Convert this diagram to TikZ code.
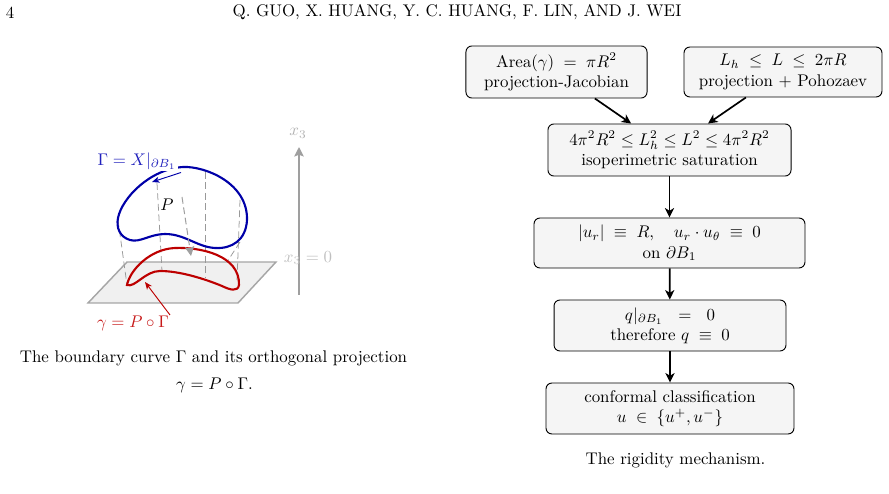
\documentclass[tikz,border=0pt]{standalone}
\usepackage{amsmath}
\usetikzlibrary{arrows.meta}

\definecolor{curveblue}{rgb}{0.0,0.0,0.66}
\definecolor{labelblue}{rgb}{0.13,0.13,0.74}
\definecolor{curvered}{rgb}{0.74,0.0,0.0}
\definecolor{labelred}{rgb}{0.78,0.1,0.1}

\tikzset{
  mechbox/.style={draw,rounded corners=3.5pt,fill=black!4,align=center,line width=.55pt,inner sep=0pt},
  mecharrow/.style={-{Stealth[length=5.6pt,width=5.4pt,inset=1.6pt]},line width=1pt},
  greyarrow/.style={-{Stealth[length=5.6pt,width=5.6pt,inset=1pt]},gray!75},
  thinarrow/.style={-{Stealth[length=4.4pt,width=3.6pt,inset=1.2pt]},line width=.55pt},
  dropline/.style={gray!80,dash pattern=on 4pt off 2.2pt,line width=.45pt},
  pagetext/.style={inner sep=0pt}
}

\begin{document}
\begin{tikzpicture}[x=.592pt,y=-.592pt]
  \useasboundingbox (0,0) rectangle (889,494);

  \node[pagetext] (pagenum) at (10,12.5) {4};
  \node[pagetext] (runhead) at (457,12.5) {Q. GUO, X. HUANG, Y. C. HUANG, F. LIN, AND J. WEI};

  % projection plane
  \coordinate (PA) at (88,303);
  \coordinate (PB) at (238,303);
  \coordinate (PC) at (276,262);
  \coordinate (PD) at (127,262);
  \filldraw[fill=black!6,draw=gray!70,line width=.85pt] (PA) -- (PB) -- (PC) -- (PD) -- cycle;

  \coordinate (X0) at (299,295);
  \coordinate (X1) at (299,147);
  \draw[greyarrow,line width=1pt] (X0) -- (X1);
  \node[gray!60] (xlabel) at (298,133.5) {$x_3$};
  \node[gray!50] (xzero) at (308,258) {$x_3=0$};

  % vertical drops
  \coordinate (D1a) at (118,220);
  \coordinate (D1b) at (127,285);
  \coordinate (D2a) at (157,183);
  \coordinate (D2b) at (162,271);
  \coordinate (D3a) at (205,172);
  \coordinate (D3b) at (205,278);
  \coordinate (D4a) at (240,200);
  \coordinate (D4b) at (237,281);
  \coordinate (D5a) at (240,242);
  \coordinate (D5b) at (227,262);
  \draw[dropline] (D1a) -- (D1b);
  \draw[dropline] (D2a) -- (D2b);
  \draw[dropline] (D3a) -- (D3b);
  \draw[dropline] (D4a) -- (D4b);
  \draw[dropline] (D5a) -- (D5b);

  \draw[curveblue,line width=1.25pt] (183,167)
    .. controls (205,166) and (248,183) .. (247,220)
    .. controls (246,240) and (232,249) .. (215,248)
    .. controls (197,247) and (185,234) .. (165,234)
    .. controls (150,234) and (140,243) .. (130,240)
    .. controls (120,237) and (116,228) .. (118,218)
    .. controls (122,198) and (150,169) .. (183,167) -- cycle;
  \draw[curvered,line width=1.25pt] (127,285)
    .. controls (130,270) and (150,249) .. (175,248)
    .. controls (200,247) and (240,255) .. (239,285)
    .. controls (238,292) and (230,290) .. (222,286)
    .. controls (205,279) and (180,271) .. (160,271)
    .. controls (145,271) and (135,288) .. (127,285) -- cycle;

  \coordinate (Pa) at (182,197);
  \coordinate (Pb) at (191,256);
  \draw[greyarrow,dash pattern=on 4pt off 2.2pt,line width=.6pt] (Pa) -- (Pb);
  \node (plabel) at (167,205) {$P$};

  \node[fill=white,inner sep=1pt,text=labelblue] (gammalabel) at (137,161) {$\Gamma=X|_{\partial B_1}$};
  \coordinate (Ga) at (181,172.5);
  \coordinate (Gb) at (152,182);
  \draw[thinarrow,curveblue] (Ga) -- (Gb);

  \node[text=labelred] (curvelabel) at (133,323) {$\gamma=P\circ\Gamma$};
  \coordinate (Ra) at (170,315);
  \coordinate (Rb) at (145,282);
  \draw[thinarrow,curvered] (Ra) -- (Rb);

  \node[pagetext] (capa) at (213.5,358) {The boundary curve $\Gamma$ and its orthogonal projection};
  \node[pagetext] (capb) at (214.5,385) {$\gamma=P\circ\Gamma$.};

  % mechanism
  \node[mechbox,minimum width=107.2pt,minimum height=30.8pt] (area) at (556.5,72)
    {$\mathrm{Area}(\gamma)\;=\;\pi R^2$\\ projection-Jacobian};
  \node[mechbox,minimum width=117.2pt,minimum height=29.6pt] (length) at (783,72)
    {$L_h\;\le\;L\;\le\;2\pi R$\\ projection $+$ Pohozaev};
  \node[mechbox,minimum width=143.9pt,minimum height=30.8pt] (iso) at (669.5,150)
    {$4\pi^2R^2\le L_h^2\le L^2\le 4\pi^2R^2$\\ isoperimetric saturation};
  \node[mechbox,minimum width=160.4pt,minimum height=29.6pt] (conf) at (669.5,243)
    {$|u_r|\;\equiv\;R,\quad u_r\cdot u_\theta\;\equiv\;0$\\ on $\partial B_1$};
  \node[mechbox,minimum width=137.3pt,minimum height=30.2pt] (vanish) at (670,325.5)
    {$q|_{\partial B_1}\ \;=\ \;0$\\ therefore $q\;\equiv\;0$};
  \node[mechbox,minimum width=146.8pt,minimum height=30.2pt] (class) at (670,408.5)
    {conformal classification\\ $u\;\in\;\{u^+,u^-\}$};

  \draw[mecharrow] (area) -- (iso);
  \draw[mecharrow] (length) -- (iso);
  \draw[mecharrow] (iso) -- (conf);
  \draw[mecharrow] (conf) -- (vanish);
  \draw[mecharrow] (vanish) -- (class);

  \node[pagetext] (capc) at (675.5,460) {The rigidity mechanism.};
\end{tikzpicture}
\end{document}
